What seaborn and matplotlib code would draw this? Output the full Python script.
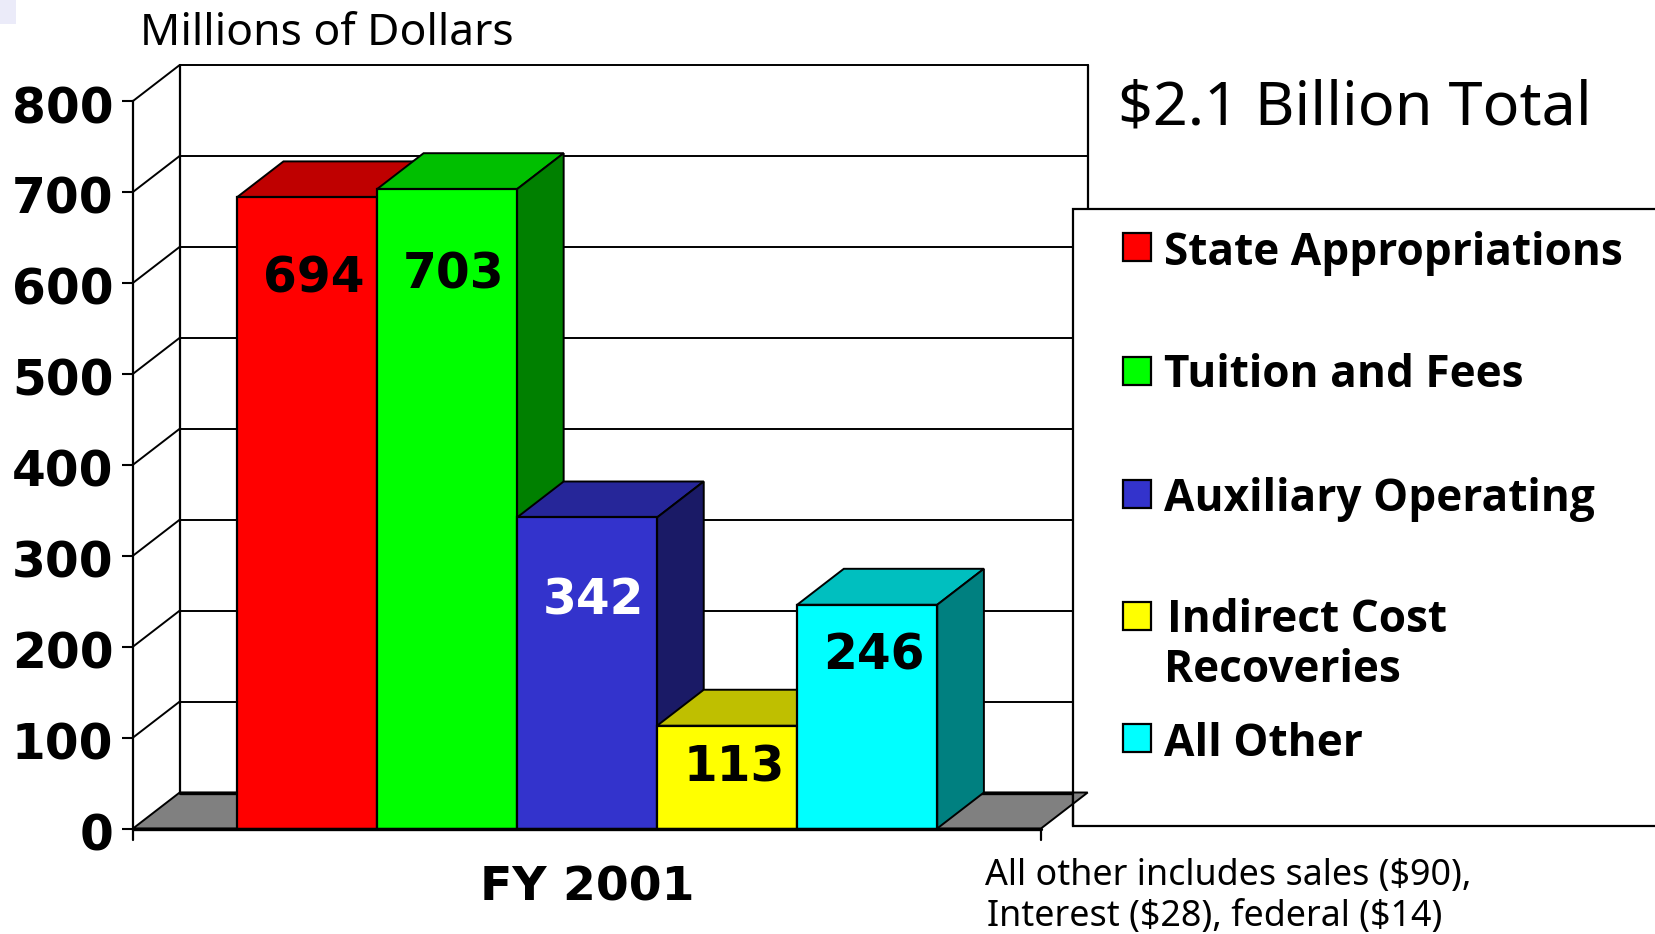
import matplotlib
matplotlib.use('Agg')
import matplotlib.pyplot as plt
from matplotlib.lines import Line2D
from matplotlib.patches import Polygon, Rectangle
from matplotlib.transforms import Affine2D
import seaborn as sns
import pandas as pd

sources = ['State Appropriations', 'Tuition and Fees', 'Auxiliary Operating',
           'Indirect Cost Recoveries', 'All Other']
amounts = [694, 703, 342, 113, 246]
year = ['FY 2001'] * 5
y_ticks = [0, 100, 200, 300, 400, 500, 600, 700, 800]

front_colors = ['#FF0000', '#00FF00', '#3333CC', '#FFFF00', '#00FFFF']
top_colors = ['#BF0000', '#00BF00', '#262699', '#BFBF00', '#00BFBF']
side_colors = ['#800000', '#008000', '#1A1A66', '#808000', '#008080']
label_colors = ['black', 'black', 'white', 'black', 'black']
# how far each number sits below the top of its bar, in pixels
label_drop = [81, 85, 83, 42, 51]

W, H = 1655, 934
AX_LEFT, AX_RIGHT, AX_TOP, AX_BOTTOM = 133, 1041, 101, 828.5
DEPTH_X = 46.7 / (AX_RIGHT - AX_LEFT)
DEPTH_Y = 36 / (AX_BOTTOM - AX_TOP) * 800

sns.set_theme(style='white')
plt.rcParams['font.family'] = ['Noto Sans', 'DejaVu Sans']

df = pd.DataFrame({'year': year, 'source': sources, 'amount': amounts})

fig = plt.figure(figsize=(W / 100, H / 100), dpi=100)
ax = fig.add_axes([AX_LEFT / W, 1 - AX_BOTTOM / H, (AX_RIGHT - AX_LEFT) / W, (AX_BOTTOM - AX_TOP) / H])
ax.patch.set_alpha(0)

sns.barplot(data=df, x='year', y='amount', hue='source', hue_order=sources,
            palette=front_colors, saturation=1, width=700.4 / (AX_RIGHT - AX_LEFT), gap=0, dodge=True,
            edgecolor='black', linewidth=1.6, legend=False, ax=ax, zorder=5)
ax.set_xlim(-0.5, 0.5)
ax.set_ylim(0, 800)
ax.set_xlabel('')
ax.set_ylabel('')
ax.set_xticks([])
ax.set_yticks(y_ticks)
ax.set_yticklabels([str(v) for v in y_ticks], fontsize=35, fontweight='bold', family='DejaVu Sans', color='black')
ax.tick_params(axis='y', left=True, length=8, width=1.5, color='black', pad=6)
for lab in ax.get_yticklabels():
    lab.set_transform(lab.get_transform() + Affine2D().translate(0, -3))
for s in ['top', 'right', 'bottom']:
    ax.spines[s].set_visible(False)
ax.spines['left'].set_color('black')
ax.spines['left'].set_linewidth(1.6)

# floor of the box
floor = [(-0.5, 0), (0.5, 0), (0.5 + DEPTH_X, DEPTH_Y), (-0.5 + DEPTH_X, DEPTH_Y)]
ax.add_patch(Polygon(floor, closed=True, facecolor='#808080', edgecolor='black', lw=1.4, zorder=1, clip_on=False))
ax.plot([-0.5 + DEPTH_X, 0.5 + DEPTH_X], [DEPTH_Y, DEPTH_Y], color='black', lw=2.4, zorder=1.5, clip_on=False)
ax.plot([-0.5, 0.5], [0, 0], color='black', lw=2.4, zorder=30, clip_on=False)

# back wall with gridlines, and the slanted bits on the left side
for v in y_ticks[1:]:
    ax.plot([-0.5 + DEPTH_X, 0.5 + DEPTH_X], [v + DEPTH_Y, v + DEPTH_Y], color='black', lw=1.4, zorder=1, clip_on=False)
    ax.plot([-0.5, -0.5 + DEPTH_X], [v, v + DEPTH_Y], color='black', lw=1.4, zorder=1, clip_on=False)
for xpos in [-0.5 + DEPTH_X, 0.5 + DEPTH_X]:
    ax.plot([xpos, xpos], [DEPTH_Y, 800 + DEPTH_Y], color='black', lw=1.6, zorder=1, clip_on=False)

# 3d faces, left to right so the next bar covers the one before
bars = [p for p in ax.patches if isinstance(p, Rectangle)][:len(amounts)]
bars = sorted(bars, key=lambda p: p.get_x())
for i, bar in enumerate(bars):
    x0, w, h = bar.get_x(), bar.get_width(), bar.get_height()
    x1 = x0 + w
    bar.set_zorder(5 + i * 3 + 2)
    ax.add_patch(Polygon([(x0, h), (x1, h), (x1 + DEPTH_X, h + DEPTH_Y), (x0 + DEPTH_X, h + DEPTH_Y)],
                         closed=True, facecolor=top_colors[i], edgecolor='black', lw=1.4,
                         zorder=5 + i * 3, clip_on=False))
    ax.add_patch(Polygon([(x1, 0), (x1 + DEPTH_X, DEPTH_Y), (x1 + DEPTH_X, h + DEPTH_Y), (x1, h)],
                         closed=True, facecolor=side_colors[i], edgecolor='black', lw=1.4,
                         zorder=5 + i * 3, clip_on=False))
    ax.annotate(str(amounts[i]), (x0 + w / 2, h), xytext=(5, -label_drop[i] * 0.72), textcoords='offset points',
                ha='center', va='center', fontsize=35, fontweight='bold', family='DejaVu Sans',
                color=label_colors[i], zorder=40)

# little ticks under the floor
for xpos in [-0.5, 0.5]:
    ax.plot([xpos, xpos], [0, -11 / (AX_BOTTOM - AX_TOP) * 800], color='black', lw=1.6, zorder=30, clip_on=False)


def px_text(x, y, s, **kw):
    fig.text(x / W, 1 - y / H, s, color='black', va='center', parse_math=False, **kw)


def px_rect(x, y, w, h, **kw):
    fig.add_artist(Rectangle((x / W, 1 - (y + h) / H), w / W, h / H, transform=fig.transFigure, **kw))


# faint corner left over from the slide background
px_rect(0, 0, 16, 24, facecolor='#EBEBF9', edgecolor='none')

px_text(140, 34, 'Millions of Dollars', fontsize=32)
px_text(1118, 109, '$2.1 Billion Total', fontsize=44)
px_text(587, 888, 'FY 2001', fontsize=34, fontweight='bold', family='DejaVu Sans', ha='center')
px_text(985, 876, 'All other includes sales ($90),', fontsize=25.8)
px_text(987, 917, 'Interest ($28), federal ($14)', fontsize=25.8)

# legend box runs off the right edge in the original
LEG_LEFT, LEG_TOP, LEG_BOTTOM = 1073, 209, 826
px_rect(LEG_LEFT, LEG_TOP, 620, LEG_BOTTOM - LEG_TOP, facecolor='white', edgecolor='black', lw=1.6, zorder=50)
swatch_y = [233, 357, 480, 602, 724]
text_rows = [[(1164, 253, 'State Appropriations')], [(1164, 376, 'Tuition and Fees')],
             [(1164, 499, 'Auxiliary Operating')],
             [(1167, 620, 'Indirect Cost'), (1164, 671, 'Recoveries')], [(1164, 744, 'All Other')]]
for color, sy, rows in zip(front_colors, swatch_y, text_rows):
    px_rect(1123, sy, 28, 28, facecolor=color, edgecolor='black', lw=1.6, zorder=51)
    for tx, ty, s in rows:
        fig.text(tx / W, 1 - ty / H, s, color='black', va='center', fontsize=31.8, fontweight='bold',
                 family='Open Sans', zorder=52)

# corner of the floor lies over the legend box, cut to the part right of its border
corner_clip = Rectangle((LEG_LEFT, 0), 100, H, transform=None)
fig.add_artist(Polygon(floor, closed=True, facecolor='#808080', edgecolor='black', lw=1.4,
                       transform=ax.transData, zorder=53, clip_path=corner_clip))
fig.add_artist(Line2D([LEG_LEFT / W, LEG_LEFT / W], [1 - LEG_BOTTOM / H, 1 - 792 / H], color='black', lw=1.6,
                      transform=fig.transFigure, zorder=54))

plt.savefig('out.png', dpi=100)
plt.close()
